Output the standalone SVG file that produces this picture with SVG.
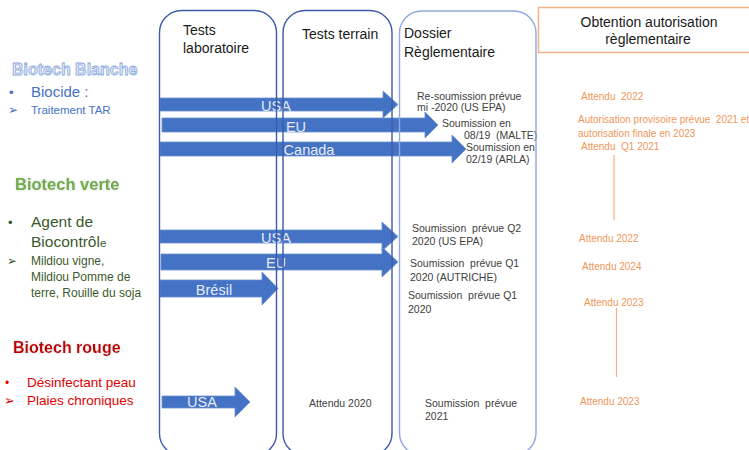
<svg xmlns="http://www.w3.org/2000/svg" width="749" height="450" viewBox="0 0 749 450" xml:space="preserve">
  <defs>
    <filter id="glow" x="-10%" y="-30%" width="120%" height="160%">
      <feGaussianBlur in="SourceAlpha" stdDeviation="1.2" result="b"/>
      <feFlood flood-color="#bfbfbf" flood-opacity="0.7"/>
      <feComposite operator="in" in2="b"/>
      <feMerge><feMergeNode/><feMergeNode in="SourceGraphic"/></feMerge>
    </filter>
  </defs>
  <style>
    text { font-family: "Liberation Sans", Arial, sans-serif; white-space: pre; }
    .head { font-size: 14px; fill: #1a1a1a; }
    .note { font-size: 10.5px; fill: #404040; }
    .due { font-size: 10px; fill: #f0965a; }
    .arrow { fill: #4472c4; stroke: #7090d2; stroke-width: 0.8; }
    .alabel { font-size: 14.5px; fill: #e4eaf6; text-anchor: middle; }
    .col { fill: none; stroke-width: 1.4; }
    .sym { font-family: "DejaVu Sans", sans-serif; }
    .blue { fill: #4472c4; }
    .green { fill: #3b5a2a; }
    .red { fill: #e00000; }
  </style>
  <rect width="749" height="450" fill="#ffffff"/>

  <!-- left-hand categories -->
  <g id="cat-blanche">
    <text x="12" y="75" font-size="16" font-weight="bold" fill="#e4ebf7" stroke="#8aa8dc" stroke-width="0.8">Biotech Blanche</text>
    <text x="9" y="97" class="blue" font-size="13">•</text>
    <text x="31" y="97" class="blue" font-size="15">Biocide :</text>
    <text x="8" y="114" class="blue sym" font-size="12">➢</text>
    <text x="31" y="114" class="blue" font-size="11.5">Traitement TAR</text>
  </g>
  <g id="cat-verte">
    <text x="15" y="190" font-size="16.5" font-weight="bold" fill="#70ad47" filter="url(#glow)">Biotech verte</text>
    <text x="8" y="227" class="green" font-size="13">•</text>
    <text x="31" y="227" class="green" font-size="15.5">Agent de</text>
    <text x="31" y="247" class="green" font-size="15.5">Biocontrôl<tspan font-size="11.5">e</tspan></text>
    <text x="7" y="265" class="green sym" font-size="12">➢</text>
    <text x="31" y="265" class="green" font-size="12">Mildiou vigne,</text>
    <text x="31" y="281" class="green" font-size="12">Mildiou Pomme de</text>
    <text x="31" y="297" class="green" font-size="12">terre, Rouille du soja</text>
  </g>
  <g id="cat-rouge">
    <text x="13" y="353" font-size="16" font-weight="bold" fill="#c00000" filter="url(#glow)">Biotech rouge</text>
    <text x="5" y="387" class="red" font-size="12">•</text>
    <text x="27" y="387" class="red" font-size="13.5">Désinfectant peau</text>
    <text x="4" y="405" class="red sym" font-size="13">➢</text>
    <text x="27" y="405" class="red" font-size="13.5">Plaies chroniques</text>
  </g>

  <!-- stage headers -->
  <g id="hdr-labo">
    <text x="183" y="35" class="head">Tests</text>
    <text x="183" y="53" class="head">laboratoire</text>
  </g>
  <g id="hdr-terrain">
    <text x="302" y="39" class="head">Tests terrain</text>
  </g>
  <g id="hdr-dossier">
    <text x="404" y="38" class="head">Dossier</text>
    <text x="404" y="57" class="head">Règlementaire</text>
  </g>
  <g id="hdr-obtention">
    <rect x="538.5" y="7.5" width="220" height="45" fill="#ffffff" stroke="#f4b183" stroke-width="1.5"/>
    <text x="649" y="27" class="head" font-size="14.5" text-anchor="middle">Obtention autorisation</text>
    <text x="648" y="44" class="head" font-size="14.5" text-anchor="middle">règlementaire</text>
  </g>

  <!-- dossier notes -->
  <g id="notes-dossier">
    <text x="417" y="100" class="note">Re-soumission prévue</text>
    <text x="417" y="111" class="note">mi -2020 (US EPA)</text>
    <text x="442" y="127" class="note">Soumission en</text>
    <text x="464" y="139" class="note">08/19  (MALTE)</text>
    <text x="466" y="151" class="note">Soumission en</text>
    <text x="466" y="163" class="note">02/19 (ARLA)</text>
    <text x="412" y="232" class="note">Soumission  prévue Q2</text>
    <text x="412" y="245" class="note">2020 (US EPA)</text>
    <text x="410" y="267" class="note">Soumission  prévue Q1</text>
    <text x="410" y="281" class="note">2020 (AUTRICHE)</text>
    <text x="408" y="299" class="note">Soumission  prévue Q1</text>
    <text x="408" y="313" class="note">2020</text>
    <text x="309" y="407" class="note">Attendu 2020</text>
    <text x="425" y="407" class="note">Soumission  prévue</text>
    <text x="425" y="420" class="note">2021</text>
  </g>

  <!-- authorisation outlook -->
  <g id="notes-obtention">
    <text x="581" y="100" class="due">Attendu  2022</text>
    <text x="578" y="123" class="due">Autorisation provisoire prévue  2021 et</text>
    <text x="578" y="137" class="due">autorisation finale en 2023</text>
    <text x="581" y="150" class="due">Attendu  Q1 2021</text>
    <line x1="614" y1="155" x2="614" y2="220" stroke="#f4b183" stroke-width="1.2"/>
    <text x="579" y="242" class="due">Attendu 2022</text>
    <text x="582" y="270" class="due">Attendu 2024</text>
    <text x="584" y="306" class="due">Attendu 2023</text>
    <line x1="616.5" y1="308" x2="616.5" y2="377" stroke="#f4b183" stroke-width="1.2"/>
    <text x="580" y="405" class="due">Attendu 2023</text>
  </g>

  <!-- progress arrows -->
  <g id="connectors">
    <polygon class="arrow" points="160,98 383,98 383,91 398,104.5 383,118 383,111 160,111"/>
    <text x="276" y="111" class="alabel">USA</text>
    <polygon class="arrow" points="162,118 425,118 425,112 438,125 425,138 425,132 162,132"/>
    <text x="296" y="132" class="alabel">EU</text>
    <polygon class="arrow" points="160,142 452,142 452,135 466,149 452,163 452,156 160,156"/>
    <text x="309" y="155" class="alabel">Canada</text>

    <polygon class="arrow" points="160,230 382,230 382,222 398,236.5 382,251 382,243 160,243"/>
    <text x="276" y="243" class="alabel">USA</text>
    <polygon class="arrow" points="161,254 382,254 382,247 398,262 382,277 382,270 161,270"/>
    <text x="276" y="268" class="alabel">EU</text>
    <polygon class="arrow" points="160,280 262,280 262,272 278,288.5 262,305 262,297 160,297"/>
    <text x="214" y="295" class="alabel">Brésil</text>

    <polygon class="arrow" points="162,396 235,396 235,387 250,402 235,417 235,408 162,408"/>
    <text x="202" y="407" class="alabel">USA</text>
  </g>

  <!-- stage columns -->
  <g id="col-labo">
    <rect x="159.5" y="10.5" width="117" height="445" rx="22" class="col" stroke="#3a5ca6"/>
  </g>
  <g id="col-terrain">
    <rect x="283" y="10.5" width="109" height="445" rx="22" class="col" stroke="#3a5ca6"/>
  </g>
  <g id="col-dossier">
    <rect x="399.5" y="11" width="136.5" height="444" rx="22" class="col" stroke="#8ea9db" stroke-width="2"/>
  </g>
</svg>
